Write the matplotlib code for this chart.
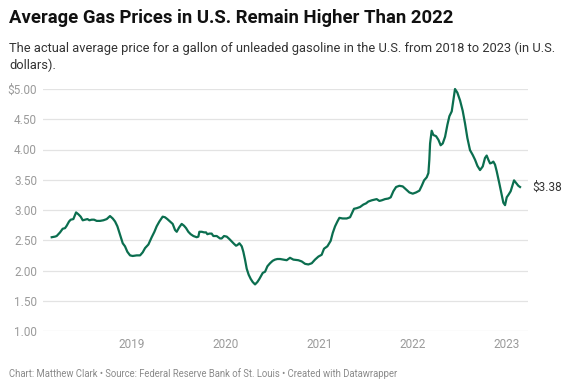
import matplotlib
matplotlib.use("Agg")
import matplotlib.pyplot as plt

plt.rcParams["font.family"] = ["Roboto", "DejaVu Sans"]

# decimal year and average price (USD / gallon)
years = [
    2018.146, 2018.181, 2018.199, 2018.235, 2018.263, 2018.288, 2018.306, 2018.331,
    2018.349, 2018.377, 2018.406, 2018.430, 2018.455, 2018.477, 2018.502, 2018.527,
    2018.548, 2018.573, 2018.598, 2018.626, 2018.662, 2018.697, 2018.733, 2018.768,
    2018.797, 2018.822, 2018.847, 2018.875, 2018.904, 2018.928, 2018.953, 2018.982,
    2019.010, 2019.053, 2019.089, 2019.117, 2019.142, 2019.178, 2019.213, 2019.242,
    2019.266, 2019.295, 2019.330, 2019.355, 2019.380, 2019.409, 2019.437, 2019.462,
    2019.480, 2019.505, 2019.533, 2019.558, 2019.580, 2019.604, 2019.629, 2019.658,
    2019.693, 2019.711, 2019.722, 2019.747, 2019.772, 2019.793, 2019.807, 2019.829,
    2019.853, 2019.871, 2019.907, 2019.942, 2019.960, 2019.985, 2020.014, 2020.042,
    2020.067, 2020.092, 2020.113, 2020.127, 2020.149, 2020.174, 2020.191, 2020.209,
    2020.227, 2020.248, 2020.270, 2020.291, 2020.316, 2020.341, 2020.362, 2020.376,
    2020.398, 2020.423, 2020.448, 2020.476, 2020.504, 2020.529, 2020.554, 2020.583,
    2020.618, 2020.654, 2020.672, 2020.689, 2020.725, 2020.778, 2020.814, 2020.850,
    2020.885, 2020.921, 2020.956, 2020.992, 2021.027, 2021.052, 2021.088, 2021.123,
    2021.145, 2021.170, 2021.195, 2021.216, 2021.251, 2021.294, 2021.330, 2021.348,
    2021.372, 2021.401, 2021.437, 2021.472, 2021.501, 2021.525, 2021.561, 2021.586,
    2021.614, 2021.643, 2021.668, 2021.703, 2021.739, 2021.764, 2021.792, 2021.821,
    2021.856, 2021.892, 2021.927, 2021.963, 2021.999, 2022.034, 2022.070, 2022.095,
    2022.120, 2022.148, 2022.166, 2022.176, 2022.184, 2022.201, 2022.219, 2022.248,
    2022.273, 2022.297, 2022.319, 2022.344, 2022.369, 2022.390, 2022.415, 2022.433,
    2022.450, 2022.475, 2022.504, 2022.532, 2022.557, 2022.582, 2022.610, 2022.639,
    2022.664, 2022.689, 2022.717, 2022.746, 2022.770, 2022.788, 2022.806, 2022.824,
    2022.842, 2022.859, 2022.877, 2022.895, 2022.923, 2022.948, 2022.966, 2022.984,
    2023.002, 2023.020, 2023.044, 2023.066, 2023.080, 2023.101, 2023.126, 2023.144,
]
prices = [
    2.55, 2.56, 2.57, 2.63, 2.69, 2.70, 2.74, 2.81,
    2.84, 2.85, 2.96, 2.93, 2.89, 2.83, 2.84, 2.85,
    2.83, 2.84, 2.84, 2.82, 2.82, 2.83, 2.85, 2.90,
    2.86, 2.81, 2.73, 2.59, 2.45, 2.40, 2.31, 2.25,
    2.24, 2.25, 2.25, 2.30, 2.37, 2.43, 2.55, 2.64,
    2.73, 2.81, 2.89, 2.88, 2.85, 2.81, 2.77, 2.67,
    2.64, 2.71, 2.77, 2.74, 2.70, 2.64, 2.60, 2.57,
    2.55, 2.56, 2.64, 2.64, 2.63, 2.63, 2.60, 2.61,
    2.61, 2.57, 2.57, 2.53, 2.53, 2.57, 2.56, 2.52,
    2.48, 2.44, 2.41, 2.42, 2.45, 2.40, 2.31, 2.18,
    2.03, 1.93, 1.86, 1.81, 1.77, 1.81, 1.86, 1.90,
    1.96, 1.98, 2.07, 2.12, 2.16, 2.18, 2.19, 2.19,
    2.18, 2.17, 2.19, 2.21, 2.18, 2.17, 2.15, 2.11,
    2.10, 2.12, 2.18, 2.23, 2.26, 2.36, 2.40, 2.49,
    2.62, 2.73, 2.81, 2.87, 2.86, 2.86, 2.88, 2.94,
    3.02, 3.03, 3.05, 3.09, 3.11, 3.14, 3.16, 3.17,
    3.18, 3.15, 3.16, 3.18, 3.19, 3.21, 3.31, 3.38,
    3.40, 3.39, 3.34, 3.29, 3.27, 3.29, 3.32, 3.40,
    3.49, 3.54, 3.61, 3.83, 4.10, 4.31, 4.24, 4.22,
    4.16, 4.07, 4.10, 4.21, 4.41, 4.55, 4.63, 4.82,
    5.00, 4.94, 4.81, 4.64, 4.43, 4.19, 3.99, 3.91,
    3.83, 3.73, 3.66, 3.72, 3.86, 3.90, 3.83, 3.77,
    3.78, 3.80, 3.75, 3.64, 3.44, 3.25, 3.12, 3.08,
    3.21, 3.25, 3.31, 3.42, 3.49, 3.45, 3.40, 3.38,
]

y_ticks = [1.0, 1.5, 2.0, 2.5, 3.0, 3.5, 4.0, 4.5, 5.0]
y_labels = ["1.00", "1.50", "2.00", "2.50", "3.00", "3.50", "4.00", "4.50", "$5.00"]
x_ticks = [2019, 2020, 2021, 2022, 2023]

line_color = "#0b6e4f"
grid_color = "#e3e3e3"
tick_color = "#9a9a9a"

fig = plt.figure(figsize=(5.75, 3.9), dpi=100)
ax = fig.add_axes([43 / 575, 1 - 331 / 390, 485 / 575, 242 / 390])

ax.plot(years, prices, color=line_color, linewidth=1.6, clip_on=False, zorder=3)

ax.set_xlim(2018.053, 2023.229)
ax.set_ylim(1, 5)
ax.set_yticks(y_ticks)
ax.set_yticklabels(y_labels)
ax.set_xticks(x_ticks)
ax.set_xticklabels([str(y) for y in x_ticks])
ax.grid(axis="y", color=grid_color, linewidth=0.9)
ax.tick_params(axis="both", length=0, labelsize=8.5, colors=tick_color)
ax.tick_params(axis="y", pad=4.3)
ax.tick_params(axis="x", pad=5)
for s in ax.spines.values():
    s.set_visible(False)

# end label
ax.annotate("$%.2f" % prices[-1], xy=(years[-1], prices[-1]), xytext=(9, 0),
            textcoords="offset points", va="center", ha="left",
            fontsize=8.5, color="#333333")

fig.text(9 / 575, 1 - 9 / 390, "Average Gas Prices in U.S. Remain Higher Than 2022",
         fontsize=13.3, fontweight="bold", color="#111111", va="top", ha="left")
fig.text(9 / 575, 1 - 42 / 390,
         "The actual average price for a gallon of unleaded gasoline in the U.S. from 2018 to 2023 (in U.S.\ndollars).",
         fontsize=9.3, color="#333333", va="top", ha="left", linespacing=1.3)
fig.text(9 / 575, 1 - 374 / 390,
         "Chart: Matthew Clark \u2022 Source: Federal Reserve Bank of St. Louis \u2022 Created with Datawrapper",
         fontsize=6.85, color="#8a8a8a", va="center", ha="left")

fig.savefig("out.png", dpi=100)
